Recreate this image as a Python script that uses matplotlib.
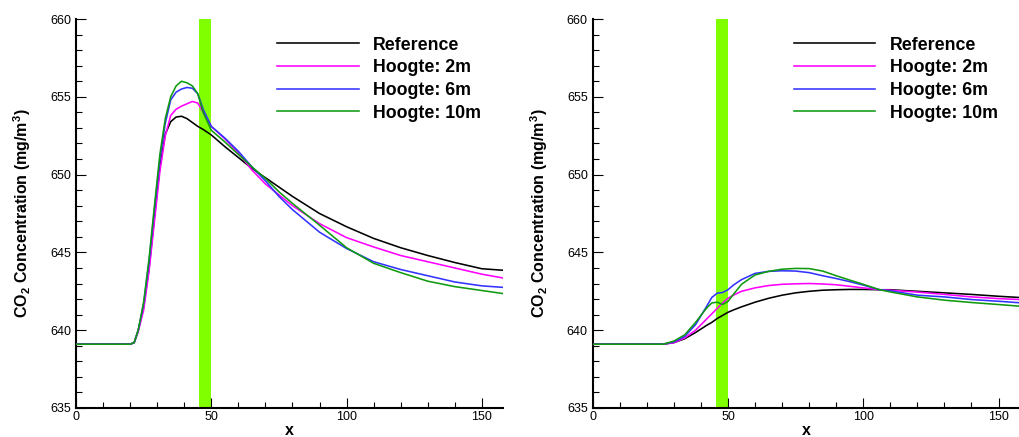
"""
CO2 concentration along x for the reference case and three heights,
shown for two configurations side by side.
"""

import matplotlib
matplotlib.use('Agg')
import matplotlib.pyplot as plt
from matplotlib.ticker import MultipleLocator

plt.rcParams['font.family'] = ['Liberation Sans', 'DejaVu Sans']

labels = ['Reference', 'Hoogte: 2m', 'Hoogte: 6m', 'Hoogte: 10m']
colors = ['black', '#ff00ff', '#3333ff', '#109a10']

# left configuration
x_left = [0, 20, 21.5, 23, 25, 27, 29, 31, 33, 35, 37, 39, 41, 43, 45, 47, 50,
          55, 60, 65, 70, 75, 80, 90, 100, 110, 120, 130, 140, 150, 158]
ref_left = [639.1, 639.1, 639.2, 640.0, 641.5, 644.0, 647.3, 650.5, 652.6, 653.4,
            653.7, 653.75, 653.6, 653.35, 653.1, 652.9, 652.55,
            651.8, 651.1, 650.4, 649.8, 649.2, 648.6, 647.5, 646.65, 645.9,
            645.3, 644.8, 644.35, 643.95, 643.85]
h2_left = [639.1, 639.1, 639.2, 639.9, 641.3, 643.8, 647.0, 650.2, 652.5, 653.8,
           654.2, 654.4, 654.55, 654.7, 654.6, 654.0, 653.1,
           652.3, 651.4, 650.3, 649.4, 648.7, 648.0, 646.85, 645.95, 645.35,
           644.8, 644.4, 644.0, 643.6, 643.35]
h6_left = [639.1, 639.1, 639.2, 640.0, 641.7, 644.4, 647.8, 651.0, 653.3, 654.8,
           655.3, 655.5, 655.6, 655.55, 655.2, 654.2, 653.1,
           652.35, 651.5, 650.5, 649.6, 648.6, 647.75, 646.3, 645.25, 644.4,
           643.9, 643.5, 643.1, 642.85, 642.75]
h10_left = [639.1, 639.1, 639.2, 640.0, 641.8, 644.6, 648.0, 651.3, 653.6, 655.0,
            655.7, 656.0, 655.9, 655.7, 655.2, 654.0, 652.85,
            652.1, 651.3, 650.5, 649.75, 648.9, 648.15, 646.75, 645.3, 644.3,
            643.7, 643.15, 642.8, 642.55, 642.35]

# right configuration
x_right = [0, 26, 30, 34, 38, 42, 44, 46, 48, 50, 52, 55, 60, 65, 70, 75, 80,
           85, 90, 95, 100, 106, 110, 120, 130, 140, 150, 158]
ref_right = [639.1, 639.1, 639.2, 639.45, 639.85, 640.3, 640.5, 640.75, 640.95,
             641.15, 641.3, 641.5, 641.8, 642.05, 642.25, 642.4, 642.5, 642.57,
             642.6, 642.62, 642.62, 642.6, 642.6, 642.5, 642.4, 642.3, 642.18, 642.1]
h2_right = [639.1, 639.1, 639.2, 639.5, 640.0, 640.7, 641.05, 641.4, 641.75,
            642.05, 642.25, 642.5, 642.72, 642.87, 642.95, 642.98, 643.0, 642.97,
            642.92, 642.82, 642.72, 642.6, 642.57, 642.45, 642.3, 642.14, 642.03, 641.97]
h6_right = [639.1, 639.1, 639.25, 639.6, 640.35, 641.5, 642.1, 642.38, 642.42,
            642.6, 642.9, 643.25, 643.65, 643.78, 643.82, 643.8, 643.7, 643.5,
            643.32, 643.12, 642.9, 642.6, 642.53, 642.25, 642.14, 641.97, 641.86, 641.76]
h10_right = [639.1, 639.1, 639.3, 639.7, 640.5, 641.4, 641.75, 641.8, 641.65,
             641.85, 642.3, 642.95, 643.55, 643.78, 643.92, 643.97, 643.96, 643.8,
             643.5, 643.22, 642.95, 642.6, 642.46, 642.14, 641.93, 641.78, 641.65, 641.54]

# obstacle strip
band_x = (45.5, 50.0)


def draw_panel(ax, x, series):
    ax.axvspan(band_x[0], band_x[1], color='#80ff00', lw=0, zorder=1)
    for y, c, lab in zip(series, colors, labels):
        ax.plot(x, y, color=c, lw=1.15, label=lab, zorder=3)
    ax.set_xlim(0, 158)
    ax.set_ylim(635, 660)
    ax.xaxis.set_major_locator(MultipleLocator(50))
    ax.xaxis.set_minor_locator(MultipleLocator(10))
    ax.yaxis.set_major_locator(MultipleLocator(5))
    ax.yaxis.set_minor_locator(MultipleLocator(1))
    ax.tick_params(which='both', direction='in', width=0.8, labelsize=9)
    ax.tick_params(which='major', length=7)
    ax.tick_params(which='minor', length=4.5)
    ax.tick_params(axis='y', pad=3.5)
    ax.tick_params(axis='x', pad=2)
    ax.spines['top'].set_visible(False)
    ax.spines['right'].set_visible(False)
    ax.spines['left'].set_linewidth(1.5)
    ax.spines['bottom'].set_linewidth(1.5)
    ax.set_xlabel('x', fontsize=11.5, fontweight='bold', labelpad=0)
    ax.set_ylabel(r'CO$_\mathregular{2}$ Concentration (mg/m$^\mathregular{3}$)',
                  fontsize=11.5, fontweight='bold', labelpad=12)
    ax.legend(loc='upper left', bbox_to_anchor=(0.47, 0.955), frameon=False,
              prop={'weight': 'bold', 'size': 12.8}, handlelength=4.6,
              handletextpad=0.8, labelspacing=0.32, borderpad=0, borderaxespad=0)


fig = plt.figure(figsize=(10.2, 4.37), dpi=100)
ax1 = fig.add_axes([76 / 1020, 1 - 408 / 437, 427.5 / 1020, 389 / 437])
ax2 = fig.add_axes([592.7 / 1020, 1 - 408 / 437, 427.5 / 1020, 389 / 437])

draw_panel(ax1, x_left, [ref_left, h2_left, h6_left, h10_left])
draw_panel(ax2, x_right, [ref_right, h2_right, h6_right, h10_right])

fig.savefig('out.png', dpi=100)
